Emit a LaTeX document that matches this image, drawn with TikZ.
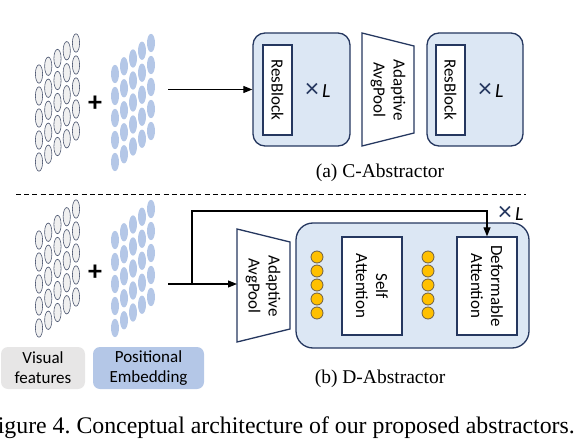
\documentclass[tikz,border=0pt]{standalone}
\usepackage{fontspec}
\setmainfont{Liberation Serif}
\newfontfamily\carlito{Carlito}
\usetikzlibrary{arrows.meta}
\definecolor{navy}{RGB}{37,55,95}
\definecolor{boxfill}{RGB}{220,231,244}
\definecolor{peblue}{RGB}{180,199,231}
\definecolor{vfgray}{RGB}{231,230,230}
\definecolor{ellgray}{RGB}{240,240,240}
\definecolor{elledge}{RGB}{80,90,115}
\definecolor{dotyel}{RGB}{255,192,0}
\definecolor{dotedge}{RGB}{110,95,70}
\newcommand{\timesL}{\textcolor{navy}{\fontsize{27}{20}\selectfont ×}\,\textit{L}}
\begin{document}
\frenchspacing
\begin{tikzpicture}[x=1pt,y=-1pt,
  outerbox/.style={draw=navy, fill=boxfill, line width=1.3pt, rounded corners=12pt},
  innerbox/.style={draw=navy, fill=white, line width=1.3pt},
  trap/.style={draw=navy, fill=white, line width=1.3pt, line join=miter},
  vtext/.style={rotate=-90, font=\carlito\fontsize{17}{20}\selectfont, align=center, inner sep=0pt},
  conn/.style={draw=black, line width=1.1pt, -{Triangle[length=9pt,width=7pt]}},
  xl/.style={font=\carlito\fontsize{20}{20}\selectfont, inner sep=0pt},
  sublabel/.style={font=\fontsize{19.5}{19.5}\selectfont, anchor=base, inner sep=0pt},
  grayell/.style={draw=elledge, fill=ellgray, line width=0.6pt},
  blueell/.style={fill=peblue},
  ydot/.style={circle, draw=dotedge, fill=dotyel, line width=0.8pt, minimum size=12pt, inner sep=0pt},
  legend/.style={rounded corners=7pt, font=\carlito\fontsize{17}{20}\selectfont, align=center},
  plus/.style={font=\carlito\bfseries\fontsize{28}{28}\selectfont, inner sep=0pt}
]
\useasboundingbox (0,0) rectangle (588,446);

% ---------- feature grids ----------
\foreach \yo in {0,166}{
  \foreach \i in {0,...,4}{
    \foreach \j in {0,...,4}{
      \draw[grayell] ({39+9.25*\i},{74+\yo-7.75*\i+22*\j}) ellipse [x radius=3.6, y radius=9.2];
      \fill[blueell] ({115+9*\i},{74+\yo-7.75*\i+22*\j}) ellipse [x radius=4, y radius=9.2];
    }
  }
}
\node[plus] (plus1) at (95,104) {+};
\node[plus] (plus2) at (95,273) {+};

% ---------- (a) C-Abstractor ----------
\node[outerbox, minimum width=97pt, minimum height=113pt] (box1) at (301.5,89.5) {};
\node[innerbox, minimum width=29pt, minimum height=90pt] (rb1) at (277.5,90) {};
\node[vtext] (rb1t) at (rb1.center) {ResBlock};
\node[xl] (xl1) at (318,90) {\timesL};

\draw[trap] (362,33) -- (414,46) -- (414,133) -- (362,146) -- cycle;
\node[vtext] (tp1) at (388,90) {Adaptive\\AvgPool};

\node[outerbox, minimum width=96pt, minimum height=113pt] (box2) at (475,89.5) {};
\node[innerbox, minimum width=29pt, minimum height=90pt] (rb2) at (450.5,90) {};
\node[vtext] (rb2t) at (rb2.center) {ResBlock};
\node[xl] (xl2) at (491,90) {\timesL};

\coordinate (in1) at (168,89.5);
\draw[conn] (in1) -- (box1.west);

\node[sublabel] (labA) at (380,178) {(a) C-Abstractor};

% ---------- separator ----------
\coordinate (sepL) at (16,194);
\coordinate (sepR) at (526,194);
\draw[black, line width=0.8pt, dash pattern=on 5pt off 3.2pt] (sepL) -- (sepR);

% ---------- (b) D-Abstractor ----------
\draw[trap] (237,229) -- (290,242) -- (290,329) -- (237,342) -- cycle;
\node[vtext] (tp2) at (263,286) {Adaptive\\AvgPool};
\coordinate (tp2w) at (237,284);

\node[outerbox, rounded corners=17pt, minimum width=233pt, minimum height=125pt] (big) at (412.5,285.5) {};
\node[innerbox, minimum width=60pt, minimum height=98pt] (sa) at (372,286) {};
\node[vtext] (sat) at (sa.center) {Self\\Attention};
\node[innerbox, minimum width=60pt, minimum height=98pt] (da) at (487,286) {};
\node[vtext] (dat) at (da.center) {Deformable\\Attention};

\foreach \k/\yy in {1/257,2/271,3/285,4/299,5/313}{
  \node[ydot] (dl\k) at (317,\yy) {};
  \node[ydot] (dr\k) at (428,\yy) {};
}

\coordinate (in2) at (168,284);
\coordinate (br) at (192,284);
\coordinate (tl) at (192,211);
\draw[conn] (in2) -- (tp2w);
\draw[conn] (br) -- (tl) -| (da.north);
\node[xl] (xl3) at (511,213) {\timesL};

\node[sublabel] (labB) at (380,383) {(b) D-Abstractor};

% ---------- legend ----------
\node[legend, fill=vfgray, minimum width=84pt, minimum height=42pt] (vf) at (43,368) {Visual\\features};
\node[legend, fill=peblue, minimum width=111pt, minimum height=42pt] (pe) at (148.5,368) {Positional\\Embedding};

% ---------- caption ----------
\node[anchor=base east, inner sep=0pt, font=\fontsize{23.8}{24}\selectfont] (cap) at (575,433) {Figure 4. Conceptual architecture of our proposed abstractors.};
\end{tikzpicture}
\end{document}
